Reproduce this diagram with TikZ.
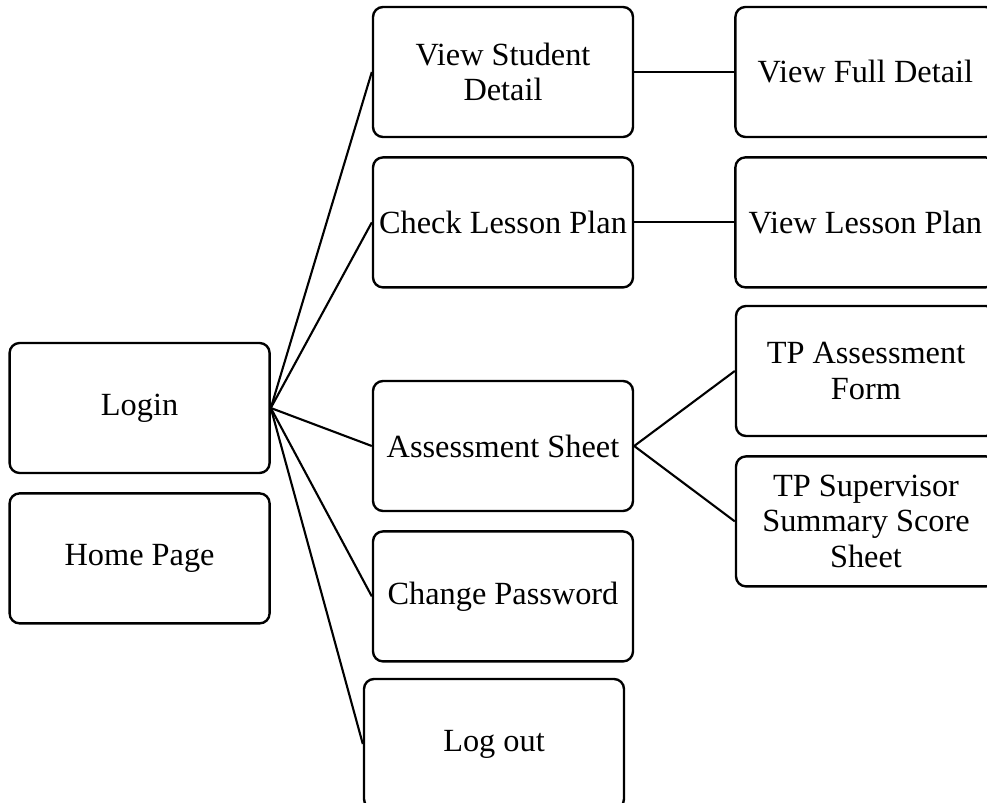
\documentclass[tikz,border=0pt]{standalone}
\usepackage{fontspec}
\setmainfont{Liberation Serif}
\usetikzlibrary{positioning}

\tikzset{
  menubox/.style={draw, line width=1.7pt, rounded corners=0.25cm, minimum width=6.5cm, minimum height=3.25cm, align=center, inner sep=2pt, font=\fontsize{23}{25}\selectfont},
  link/.style={line width=1.5pt}
}

\begin{document}
\begin{tikzpicture}[node distance=0.45cm]
    \useasboundingbox (0,0) rectangle (24.675,-20.075);

    \node[menubox] (login) at (3.49, -10.2) {Login};
    \node[menubox, below = of login] (homePage) {Home Page};

    \node[menubox] (viewStudent) at (12.575, -1.8) {View Student\\Detail};
    \node[menubox, below = of viewStudent] (checkPlan) {Check Lesson Plan};
    \node[menubox] (assessSheet) at (12.575, -11.15) {Assessment Sheet};
    \node[menubox, below = of assessSheet] (changePass) {Change Password};
    \node[menubox] (logOut) at (12.35, -18.6) {Log out};

    \node[menubox, right = 2.5cm of viewStudent] (fullDetail) {View Full Detail};
    \node[menubox, right = 2.5cm of checkPlan] (viewPlan) {View Lesson Plan};
    \node[menubox] (tpForm) at (21.65, -9.275) {TP Assessment\\Form};
    \node[menubox, below = of tpForm] (tpSummary) {TP Supervisor\\Summary Score\\Sheet};

    \foreach \target in {viewStudent, checkPlan, assessSheet, changePass, logOut}
        \draw[link] (login.east) -- (\target.west);
    \draw[link] (viewStudent) -- (fullDetail);
    \draw[link] (checkPlan) -- (viewPlan);
    \draw[link] (assessSheet.east) -- (tpForm.west);
    \draw[link] (assessSheet.east) -- (tpSummary.west);
\end{tikzpicture}
\end{document}
